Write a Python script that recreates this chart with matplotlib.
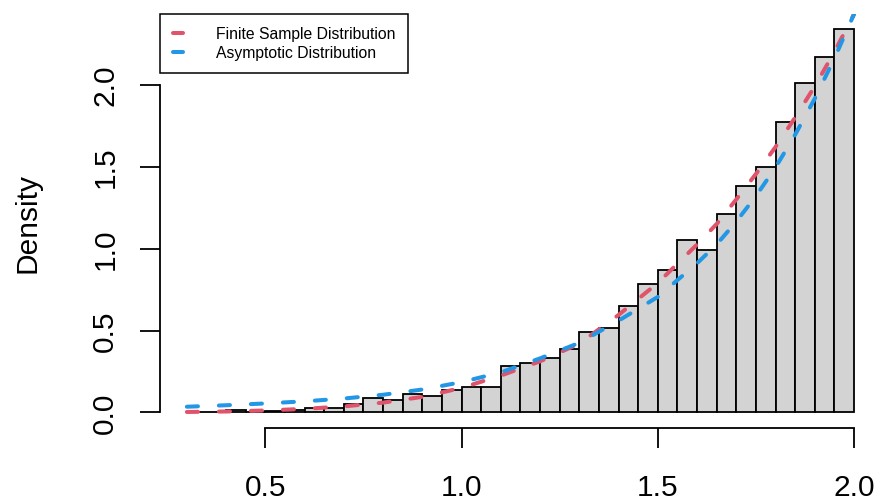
import matplotlib
matplotlib.use("Agg")
import matplotlib.pyplot as plt

plt.rcParams['font.family'] = ['Liberation Sans', 'DejaVu Sans']

# Histogram bins (left edges, width 0.05) and densities
bin_left = [0.30, 0.35, 0.40, 0.45, 0.50, 0.55, 0.60, 0.65, 0.70, 0.75,
            0.80, 0.85, 0.90, 0.95, 1.00, 1.05, 1.10, 1.15, 1.20, 1.25,
            1.30, 1.35, 1.40, 1.45, 1.50, 1.55, 1.60, 1.65, 1.70, 1.75,
            1.80, 1.85, 1.90, 1.95]
bin_width = 0.05
density = [0.002, 0.003, 0.012, 0.004, 0.006, 0.018, 0.027, 0.030, 0.054, 0.089,
           0.074, 0.115, 0.103, 0.139, 0.157, 0.153, 0.282, 0.304, 0.331, 0.387,
           0.491, 0.517, 0.650, 0.783, 0.872, 1.052, 0.993, 1.211, 1.380, 1.500,
           1.774, 2.010, 2.171, 2.340]

# Density curves
curve_x = [0.30, 0.40, 0.50, 0.60, 0.70, 0.80, 0.90, 1.00, 1.10, 1.20,
           1.30, 1.40, 1.50, 1.60, 1.65, 1.70, 1.75, 1.80, 1.85, 1.90, 1.95, 2.00]
finite_y = [0.003, 0.006, 0.012, 0.022, 0.037, 0.060, 0.095, 0.150, 0.225, 0.312,
            0.420, 0.595, 0.790, 1.025, 1.150, 1.300, 1.455, 1.620, 1.800, 1.990, 2.200, 2.430]
asym_y = [0.035, 0.044, 0.055, 0.068, 0.085, 0.108, 0.140, 0.185, 0.245, 0.330,
          0.425, 0.560, 0.705, 0.910, 1.025, 1.165, 1.320, 1.495, 1.695, 1.915, 2.160, 2.430]

legend_labels = ["Finite Sample Distribution", "Asymptotic Distribution"]
red = "#DF536B"
blue = "#2297E6"

fig = plt.figure(figsize=(8.81, 5.02), dpi=100)
ax = fig.add_axes([160.2 / 881, (502 - 428.8) / 502, 720.5 / 881, (428.8 - 14.6) / 502])

ax.bar(bin_left, density, width=bin_width, align='edge', color='#D3D3D3',
       edgecolor='black', linewidth=1.3, zorder=2)

lw = 2.9
for yv, col, lab in [(finite_y, red, legend_labels[0]), (asym_y, blue, legend_labels[1])]:
    ln, = ax.plot(curve_x, yv, color=col, linewidth=lw, label=lab, zorder=3)
    ln.set_dashes((2.75, 5.2))
    ln.set_dash_capstyle('round')

ax.set_xlim(0.232, 2.068)
ax.set_ylim(-0.0936, 2.4336)

for s in ['top', 'right']:
    ax.spines[s].set_visible(False)
ax.spines['left'].set_bounds(0, 2.0)
ax.spines['bottom'].set_bounds(0.5, 2.0)
for s in ['left', 'bottom']:
    ax.spines[s].set_linewidth(1.3)

ax.set_xticks([0.5, 1.0, 1.5, 2.0])
ax.set_xticklabels(["0.5", "1.0", "1.5", "2.0"])
ax.set_yticks([0.0, 0.5, 1.0, 1.5, 2.0])
ax.set_yticklabels(["0.0", "0.5", "1.0", "1.5", "2.0"], rotation=90, va='center')
ax.tick_params(axis='both', direction='out', length=14.4, width=1.3, labelsize=21.5)
ax.tick_params(axis='x', pad=18.0)
ax.tick_params(axis='y', pad=15.0)

fig.text(28 / 881, 1 - 223 / 502, "Density", rotation=90, ha='center', va='center', fontsize=21.5)

leg = ax.legend(loc='upper left', bbox_to_anchor=(0, 1), borderaxespad=0,
                fontsize=11.3, handlelength=0.68, handletextpad=2.08, borderpad=0.8,
                labelspacing=0.25, fancybox=False, framealpha=1, edgecolor='black')
leg.get_frame().set_linewidth(1.1)

fig.savefig("out.png", dpi=100)
